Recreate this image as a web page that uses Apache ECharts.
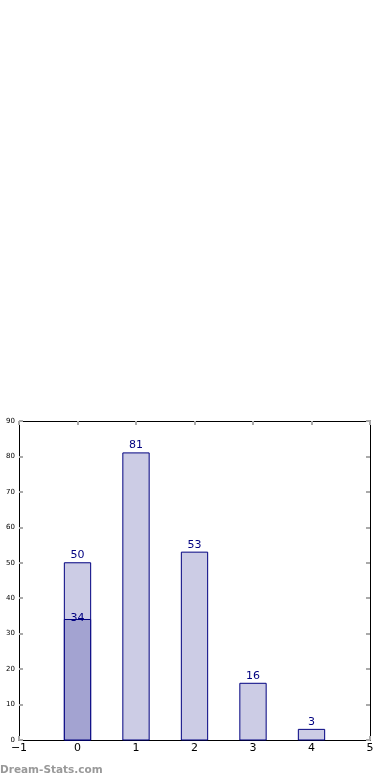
<!DOCTYPE html>
<html><head><meta charset="utf-8">
<script src="https://cdn.jsdelivr.net/npm/echarts@6/dist/echarts.min.js"></script>
<style>html,body{margin:0;padding:0;background:#fff}#c{width:390px;height:780px}</style>
</head><body><div id="c"></div>
<script>
const positions = [0, 1, 2, 3, 4];
const totals = [50, 81, 53, 16, 3];
const overlayPositions = [0];
const overlayValues = [34];
const xTicks = [-1, 0, 1, 2, 3, 4, 5];
const yTicks = [0, 10, 20, 30, 40, 50, 60, 70, 80, 90];

const chart = echarts.init(document.getElementById('c'), null, {renderer: 'canvas'});
const halfW = 0.225;
function makeRender(fill, labelDy) {
  return function (params, api) {
    const x = api.value(0), y = api.value(1);
    const p0 = api.coord([x - halfW, 0]);
    const p1 = api.coord([x + halfW, y]);
    const cx = (p0[0] + p1[0]) / 2;
    return {
      type: 'group',
      children: [
        {type: 'rect', shape: {x: p0[0], y: p1[1], width: p1[0] - p0[0], height: p0[1] - p1[1]},
         style: {fill: fill, stroke: '#000080', lineWidth: 1}},
        {type: 'text', style: {x: cx, y: p1[1] + labelDy, text: String(y), fill: '#000080',
          font: '11px "DejaVu Sans"', textAlign: 'center', textVerticalAlign: 'bottom'}}
      ]
    };
  };
}
const fmtX = v => (v < 0 ? '\u2212' + Math.abs(v) : String(v));
const line = {show: true, onZero: false, lineStyle: {color: '#000', width: 1}};
const tick = {show: true, inside: true, length: 4, lineStyle: {color: '#aaa', width: 2}};
chart.setOption({
  animation: false,
  grid: {left: 19, top: 421, width: 351, height: 319, containLabel: false},
  xAxis: [
    {type: 'value', min: xTicks[0], max: xTicks[xTicks.length - 1], interval: 1, position: 'bottom',
     axisLine: line, axisTick: tick,
     axisLabel: {formatter: fmtX, color: '#000', fontSize: 11, fontFamily: 'DejaVu Sans', margin: 3},
     splitLine: {show: false}},
    {type: 'value', min: xTicks[0], max: xTicks[xTicks.length - 1], interval: 1, position: 'top',
     axisLine: line, axisTick: tick, axisLabel: {show: false}, splitLine: {show: false}}
  ],
  yAxis: [
    {type: 'value', min: yTicks[0], max: yTicks[yTicks.length - 1], interval: 10, position: 'left',
     axisLine: line, axisTick: tick,
     axisLabel: {color: '#000', fontSize: 7, fontFamily: 'DejaVu Sans', margin: 4},
     splitLine: {show: false}},
    {type: 'value', min: yTicks[0], max: yTicks[yTicks.length - 1], interval: 10, position: 'right',
     axisLine: line, axisTick: tick, axisLabel: {show: false}, splitLine: {show: false}}
  ],
  series: [
    {type: 'custom', xAxisIndex: 0, yAxisIndex: 0, renderItem: makeRender('#ccccE5', -2),
     data: positions.map((p, i) => [p, totals[i]]), z: 2},
    {type: 'custom', xAxisIndex: 0, yAxisIndex: 0, renderItem: makeRender('#a3a3d1', 4),
     data: overlayPositions.map((p, i) => [p, overlayValues[i]]), z: 3}
  ],
  graphic: [
    {type: 'text', left: 0, top: 765, style: {text: 'Dream-Stats.com', fill: '#999',
      font: 'bold 10.5px "DejaVu Sans"'}}
  ]
});
</script></body></html>
